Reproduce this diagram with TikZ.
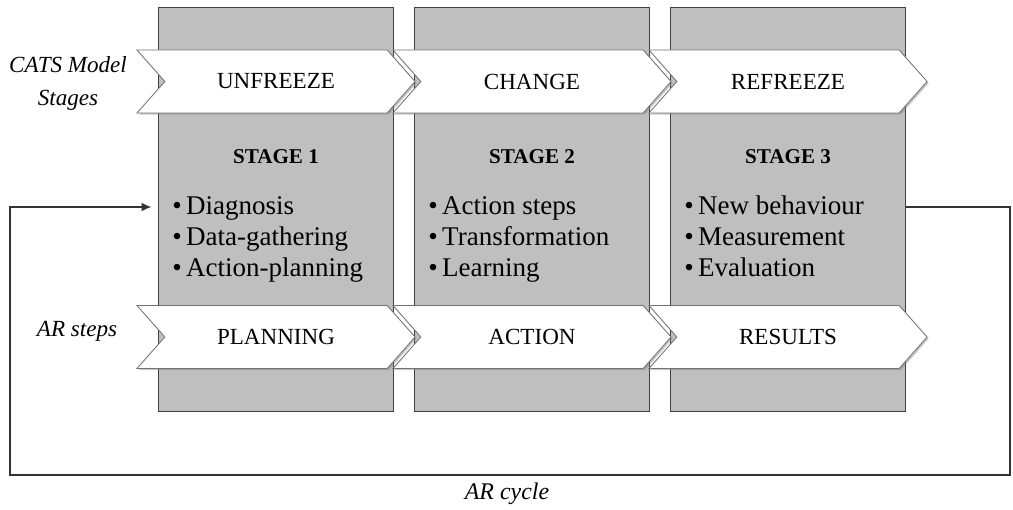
\documentclass[tikz,border=0pt]{standalone}
\usepackage{fontspec}
\setmainfont{Liberation Serif}
\usetikzlibrary{shapes.symbols,arrows.meta,positioning,shadows,calc}

\begin{document}
\begin{tikzpicture}[x=0.025cm, y=-0.025cm,
  column/.style={draw=black!75, fill=black!25, line width=0.7pt, minimum width=5.85cm, minimum height=10.075cm},
  chevron/.style={signal, signal from=west, signal to=east, signal pointer angle=97, draw=black!55, fill=white, line width=0.6pt,
    minimum width=6.95cm, minimum height=1.575cm, inner sep=0pt, font=\fontsize{16.4}{19}\selectfont,
    drop shadow={shadow xshift=1.2pt, shadow yshift=-1.2pt, opacity=0.45}},
  stagetitle/.style={font=\fontsize{15}{18}\selectfont\bfseries},
  items/.style={align=left, inner sep=0pt, anchor=north west, font=\fontsize{19.2}{22}\selectfont},
  rowlabel/.style={align=center, inner sep=0pt, font=\fontsize{16.4}{23.5}\selectfont\itshape},
  cycle/.style={draw=black!80, line width=0.75pt}
]
\useasboundingbox (0,0) rectangle (1013,510);

% Stage columns
\foreach \i/\x in {1/276,2/532,3/788}
  \node[column] (col\i) at (\x,209.5) {};

% Top row: CATS model stages
\foreach \i/\x/\name in {1/276/UNFREEZE,2/532/CHANGE,3/788/REFREEZE}
  \node[chevron] (cats\i) at (\x,81.5) {\name};

% Bottom row: AR steps
\foreach \i/\x/\name in {1/276/PLANNING,2/532/ACTION,3/788/RESULTS}
  \node[chevron] (ar\i) at (\x,337) {\name};

% Stage titles
\foreach \i in {1,2,3}
  \node[stagetitle] (title\i) at (col\i |- 0,157) {STAGE \i};

% Activities per stage
\node[items] (list1) at (172,193) {\strut\textbullet\,Diagnosis\\\textbullet\,Data-gathering\\\textbullet\,Action-planning};
\node[items] (list2) at (428,193) {\strut\textbullet\,Action steps\\\textbullet\,Transformation\\\textbullet\,Learning};
\node[items] (list3) at (684,193) {\strut\textbullet\,New behaviour\\\textbullet\,Measurement\\\textbullet\,Evaluation};

% Row labels
\node[rowlabel] (catslbl) at (68,83.5) {CATS Model\\Stages};
\node[rowlabel] (arlbl) at (77,331) {AR steps};
\node[rowlabel, font=\fontsize{17}{20}\selectfont\itshape] (cyclbl) at (507,494) {AR cycle};

% Feedback loop
\coordinate (ret) at (10,207);
\coordinate (far) at (1010,475);
\draw[cycle, -{Latex[length=7pt,width=6pt]}, shorten >=5pt]
  (col3.east |- ret) -| (far) -| (ret) -- (col1.west |- ret);
\end{tikzpicture}
\end{document}
